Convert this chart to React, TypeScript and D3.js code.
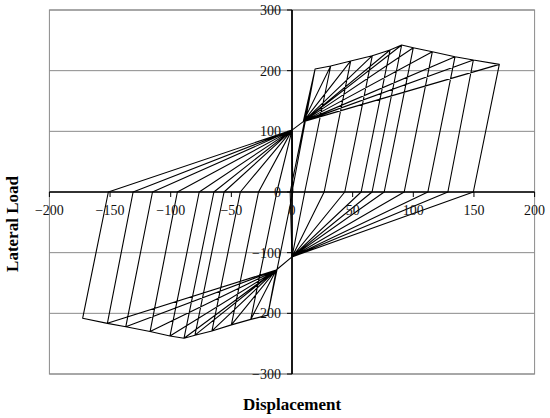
import React from "react";
import * as d3 from "d3";

// envelope peaks (displacement, load)
const posPeakX = [19, 31.9, 48.4, 66.2, 80.8, 90.4, 100, 115.7, 134.4, 149.5, 170.9];
const posPeakY = [202.7, 207.7, 216, 224.7, 234, 242.3, 237.9, 231.3, 223, 217.6, 210.4];
const negPeakX = [-20, -34, -50, -66, -80, -89, -100.6, -117, -137, -152.2, -172.6];
const negPeakY = [-203, -210, -219, -229, -236, -241, -237.4, -230, -222, -216.5, -208.2];

// displacement where each unloading branch crosses zero load
const posZeroX = [-1.5, 10.5, 26.5, 43.5, 57, 66, 76, 92.5, 112, 128.5, 149.5];
const negZeroX = [0.7, -12.5, -27.6, -42.6, -56, -64.4, -76.5, -94.5, -115, -131, -151.4];

// pinching points passed on reloading
const posPinch: [number, number][] = [[0, 102], [9.3, 116]];
const negPinch: [number, number][] = [[0, -107], [-13, -128.6]];

const xTicks = [-200, -150, -100, -50, 0, 50, 100, 150, 200];
const yTicks = [300, 200, 100, 0, -100, -200, -300];

const W = 550;
const H = 418;

export default function App() {
  const x = d3.scaleLinear().domain([-200, 200]).range([49.4, 534.6]);
  const y = d3.scaleLinear().domain([-300, 300]).range([374, 10]);

  // build the load path cycle by cycle
  const pts: [number, number][] = [[0, 0], [posPeakX[0], posPeakY[0]]];
  const n = posPeakX.length;
  for (let i = 0; i < n; i++) {
    pts.push([posZeroX[i], 0], negPinch[0], negPinch[1]);
    if (i > 0) pts.push([negPeakX[i - 1], negPeakY[i - 1]]);
    pts.push([negPeakX[i], negPeakY[i]]);
    pts.push([negZeroX[i], 0], posPinch[0], posPinch[1]);
    pts.push([posPeakX[i], posPeakY[i]]);
    if (i < n - 1) pts.push([posPeakX[i + 1], posPeakY[i + 1]]);
  }

  const line = d3
    .line<[number, number]>()
    .x((d) => x(d[0]))
    .y((d) => y(d[1]));

  const font = "'Liberation Serif', 'Times New Roman', serif";

  return (
    <svg
      width={W}
      height={H}
      style={{ position: "absolute", left: 0, top: 0, background: "#fff" }}
    >
      {/* gridlines */}
      {yTicks.map((t) => (
        <line
          key={"g" + t}
          x1={x(-200)}
          x2={x(200)}
          y1={y(t)}
          y2={y(t)}
          stroke="#8a8a8a"
          strokeWidth={1}
        />
      ))}
      <rect
        x={x(-200)}
        y={y(300)}
        width={x(200) - x(-200)}
        height={y(-300) - y(300)}
        fill="none"
        stroke="#8a8a8a"
        strokeWidth={1}
      />

      {/* data */}
      <path d={line(pts) || ""} fill="none" stroke="#000" strokeWidth={1.1} strokeLinejoin="round" />

      {/* axes */}
      <line x1={x(-200)} x2={x(200)} y1={y(0)} y2={y(0)} stroke="#000" strokeWidth={1.6} />
      <line x1={x(0)} x2={x(0)} y1={y(300)} y2={y(-300)} stroke="#000" strokeWidth={1.8} />
      {xTicks.map((t) => (
        <g key={"x" + t}>
          <line x1={x(t)} x2={x(t)} y1={y(0)} y2={y(0) + 5} stroke="#000" strokeWidth={1} />
          <text
            x={x(t)}
            y={y(0) + 23}
            textAnchor="middle"
            fontFamily={font}
            fontSize={14}
            fill="#111"
          >
            {t < 0 ? "\u2212" + Math.abs(t) : t}
          </text>
        </g>
      ))}
      {yTicks.map((t) => (
        <g key={"y" + t}>
          <line x1={x(0) - 5} x2={x(0)} y1={y(t)} y2={y(t)} stroke="#000" strokeWidth={1} />
          <text
            x={x(0) - 11}
            y={y(t)}
            dy="0.35em"
            textAnchor="end"
            fontFamily={font}
            fontSize={14}
            fill="#111"
          >
            {t < 0 ? "\u2212" + Math.abs(t) : t}
          </text>
        </g>
      ))}

      {/* titles */}
      <text
        x={292}
        y={410}
        textAnchor="middle"
        fontFamily={font}
        fontSize={17}
        fontWeight="bold"
      >
        Displacement
      </text>
      <text
        transform="translate(18,224) rotate(-90)"
        textAnchor="middle"
        fontFamily={font}
        fontSize={17}
        fontWeight="bold"
      >
        Lateral Load
      </text>
    </svg>
  );
}
